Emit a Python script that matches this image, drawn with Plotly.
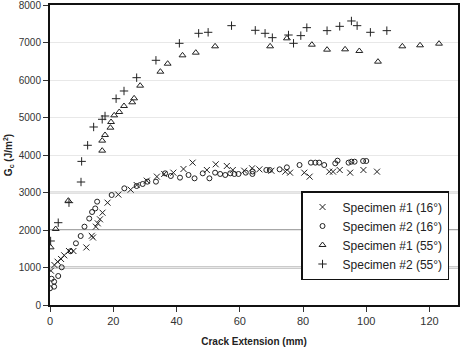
import plotly.graph_objects as go

# Specimen #1 (16°)  - x markers
s1_16_x = [0.3, 1.4, 2.4, 3.5, 4.5, 6.0, 7.4, 11.5, 13.2, 13.6, 14.5, 15.1, 15.8, 16.6, 18.2,
           21.6, 25.5, 27.4, 30.6, 33.8, 36.1, 39.0, 42.2, 45.1, 49.6, 52.4, 55.9, 57.8,
           61.4, 63.9, 66.2, 70.0, 74.4, 75.9, 80.4, 82.1, 88.3, 89.5, 91.6, 94.9, 99.1, 103.4]
s1_16_y = [915, 1067, 1155, 1227, 1325, 1440, 1440, 1535, 1845, 1800, 2089, 2178, 2285, 2462, 2729,
           2945, 3075, 3200, 3316, 3423, 3494, 3529, 3627, 3796, 3600, 3752, 3707, 3600,
           3582, 3645, 3618, 3580, 3556, 3529, 3529, 3423, 3556, 3556, 3600, 3529, 3600, 3556]

# Specimen #2 (16°)  - circles
s2_16_x = [0.0, 1.3, 1.3, 2.6, 0.5, 3.7, 6.5, 8.2, 9.7, 10.9, 12.4, 13.3, 14.3, 14.9, 19.5,
           23.5, 27.4, 29.3, 30.8, 33.5, 36.4, 38.2, 41.1, 43.8, 45.7, 48.3, 50.4, 52.2,
           53.8, 55.4, 57.0, 58.3, 59.6, 61.9, 64.0, 64.1, 68.4, 69.5, 72.6, 74.9, 78.9,
           82.5, 83.9, 85.1, 86.7, 90.2, 90.9, 94.4, 95.3, 96.3, 99.0, 100.0]
s2_16_y = [445, 489, 622, 773, 700, 1005, 1435, 1645, 1840, 2089, 2305, 2480, 2575, 2756, 2933,
           3111, 3173, 3227, 3289, 3289, 3511, 3440, 3396, 3467, 3378, 3511, 3378, 3529,
           3494, 3467, 3511, 3494, 3494, 3529, 3494, 3560, 3600, 3600, 3618, 3671, 3733,
           3796, 3796, 3796, 3733, 3778, 3849, 3796, 3822, 3822, 3840, 3840]

# Specimen #1 (55°)  - triangles
s1_55_x = [0.2, 1.8, 5.8, 16.5, 16.5, 17.4, 19.1, 19.3, 20.3, 21.9, 23.4, 26.0, 26.6, 28.5,
           34.9, 37.2, 41.9, 46.1, 52.2, 69.6, 74.9, 82.8, 87.6, 93.3, 97.8, 103.7,
           111.4, 117.0, 123.0]
s1_55_y = [1538, 2027, 2782, 4116, 4383, 4534, 4729, 4880, 5058, 5147, 5307, 5405, 5511, 5849,
           6222, 6435, 6658, 6729, 6898, 6898, 7111, 6942, 6809, 6818, 6774, 6489,
           6898, 6925, 6969]

# Specimen #2 (55°)  - plus markers
s2_55_x = [0.2, 2.6, 6.0, 9.8, 10.0, 11.9, 13.8, 16.5, 17.4, 20.9, 23.4, 27.4, 33.5, 40.9,
           47.0, 50.0, 57.4, 64.9, 68.0, 70.3, 75.4, 77.0, 79.3, 81.2, 87.6, 91.6, 95.3,
           97.1, 101.3, 106.5]
s2_55_y = [1707, 2195, 2729, 3280, 3830, 4259, 4747, 4952, 5040, 5502, 5707, 6062, 6525, 6978,
           7245, 7272, 7449, 7325, 7245, 7129, 7200, 6978, 7183, 7396, 7316, 7431, 7574,
           7449, 7272, 7316]

series_names = ["Specimen #1 (16°)", "Specimen #2 (16°)", "Specimen #1 (55°)", "Specimen #2 (55°)"]

x_ticks = [0, 20, 40, 60, 80, 100, 120]
y_ticks = [0, 1000, 2000, 3000, 4000, 5000, 6000, 7000, 8000]
dark_grid = [(1000, "#333333"), (2000, "#8a8a8a"), (3000, "#8a8a8a")]

ink = "#222222"
fig = go.Figure()
specs = [
    (s1_16_x, s1_16_y, "x-thin-open", 6),
    (s2_16_x, s2_16_y, "circle-open", 5),
    (s1_55_x, s1_55_y, "triangle-up-open", 6),
    (s2_55_x, s2_55_y, "cross-thin-open", 6),
]
for (xs, ys, sym, sz), name in zip(specs, series_names):
    fig.add_trace(go.Scatter(
        x=xs, y=ys, mode="markers", name=name,
        marker=dict(symbol=sym, size=sz, color=ink, line=dict(color=ink, width=1)),
    ))

for val, col in dark_grid:
    fig.add_shape(type="line", xref="paper", yref="y", x0=0, x1=1, y0=val, y1=val,
                  line=dict(color=col, width=1.3), layer="below")

font_family = "Liberation Sans, Arial, sans-serif"
fig.update_layout(
    width=464, height=349,
    margin=dict(l=50, r=6, t=5, b=44),
    paper_bgcolor="white", plot_bgcolor="white",
    font=dict(family=font_family, size=11, color=ink),
    showlegend=True,
    legend=dict(
        x=0.978, y=0.38, xanchor="right", yanchor="top",
        bgcolor="white", bordercolor="#111111", borderwidth=1.5,
        font=dict(size=12, color=ink), itemwidth=30,
        tracegroupgap=0,
    ),
    xaxis=dict(
        range=[0, 129], tickvals=x_ticks, ticks="outside", ticklen=5, tickcolor="#333",
        showline=True, linecolor="#111111", linewidth=2, mirror=True,
        showgrid=False, zeroline=False, automargin=False, ticklabeloverflow="allow",
        tickfont=dict(size=11, color="#333"),
        title=dict(text="<b>Crack Extension (mm)</b>", font=dict(size=10, color=ink), standoff=12),
    ),
    yaxis=dict(
        range=[0, 8000], tickvals=y_ticks, ticks="outside", ticklen=5, tickcolor="#333",
        showline=True, linecolor="#111111", linewidth=2, mirror=True,
        showgrid=True, gridcolor="#e8e8e8", gridwidth=1, zeroline=False, automargin=False,
        ticklabeloverflow="allow",
        tickfont=dict(size=10, color="#333"),
        title=dict(text="<b>G<sub>c</sub> (J/m<sup>2</sup>)</b>", font=dict(size=10, color=ink), standoff=4),
    ),
)

fig.write_html("out.html")
